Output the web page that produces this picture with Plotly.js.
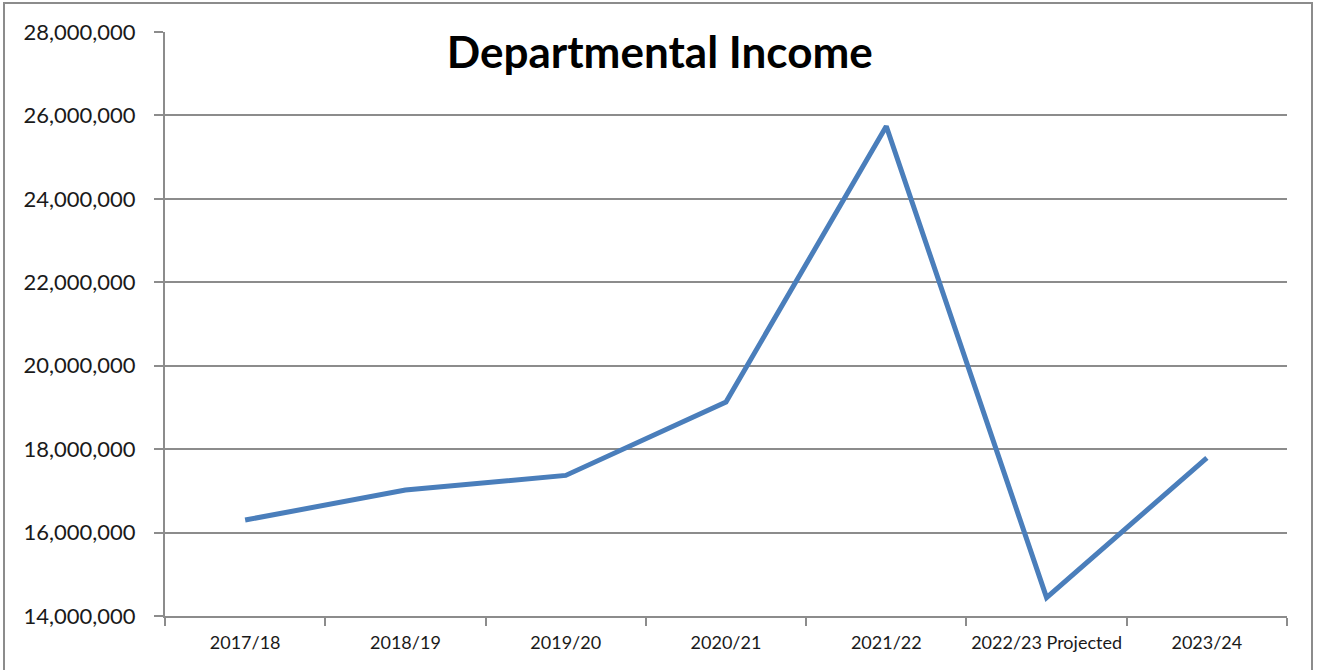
<!DOCTYPE html>
<html>
<head>
<meta charset="utf-8">
<script src="https://cdn.plot.ly/plotly-3.0.1.min.js"></script>
<style>
  html, body { margin: 0; padding: 0; background: #ffffff; }
  #wrap { position: relative; width: 1317px; height: 670px; }
  #chart { width: 1317px; height: 670px; }
  #frame { position: absolute; left: 3px; top: 2px; width: 1310px; height: 670px; border: 2px solid #8c8c8c; border-bottom: none; box-sizing: border-box; pointer-events: none; }
</style>
</head>
<body>
<div id="wrap">
  <div id="chart"></div>
  <div id="frame"></div>
</div>
<script>
const categories = ["2017/18", "2018/19", "2019/20", "2020/21", "2021/22", "2022/23 Projected", "2023/24"];
const income = [16300000, 17020000, 17370000, 19130000, 25740000, 14440000, 17790000];
const titleText = "Departmental Income";

const trace = {
  x: categories,
  y: income,
  type: "scatter",
  mode: "lines",
  line: { color: "#4a7ebb", width: 5 },
  hoverinfo: "x+y"
};

const layout = {
  width: 1317,
  height: 670,
  margin: { l: 165, r: 30, t: 32, b: 54 },
  paper_bgcolor: "#ffffff",
  plot_bgcolor: "#ffffff",
  showlegend: false,
  title: {
    text: "<b>" + titleText + "</b>",
    font: { family: "Lato, 'Open Sans', sans-serif", size: 44, color: "#000000" },
    x: 0.501, xref: "container", xanchor: "center",
    y: 0.921, yref: "container", yanchor: "middle"
  },
  xaxis: {
    type: "category",
    range: [-0.5, 6.5],
    tickson: "boundaries",
    tickangle: 0,
    ticks: "outside",
    ticklen: 8,
    tickwidth: 2,
    tickcolor: "#8c8c8c",
    showline: true,
    linecolor: "#8c8c8c",
    linewidth: 2,
    showgrid: false,
    zeroline: false,
    tickfont: { family: "Lato, 'Open Sans', sans-serif", size: 18, color: "#1a1a1a" },
    ticklabelstandoff: 9
  },
  yaxis: {
    range: [14000000, 28000000],
    dtick: 2000000,
    tickformat: ",d",
    ticks: "outside",
    ticklen: 9,
    tickwidth: 2,
    tickcolor: "#8c8c8c",
    showline: true,
    linecolor: "#8c8c8c",
    linewidth: 2,
    showgrid: true,
    gridcolor: "#8c8c8c",
    gridwidth: 2,
    zeroline: false,
    tickfont: { family: "Lato, 'Open Sans', sans-serif", size: 22, color: "#1a1a1a" },
    ticklabelstandoff: 14
  }
};

Plotly.newPlot("chart", [trace], layout, { displayModeBar: false });
</script>
</body>
</html>
